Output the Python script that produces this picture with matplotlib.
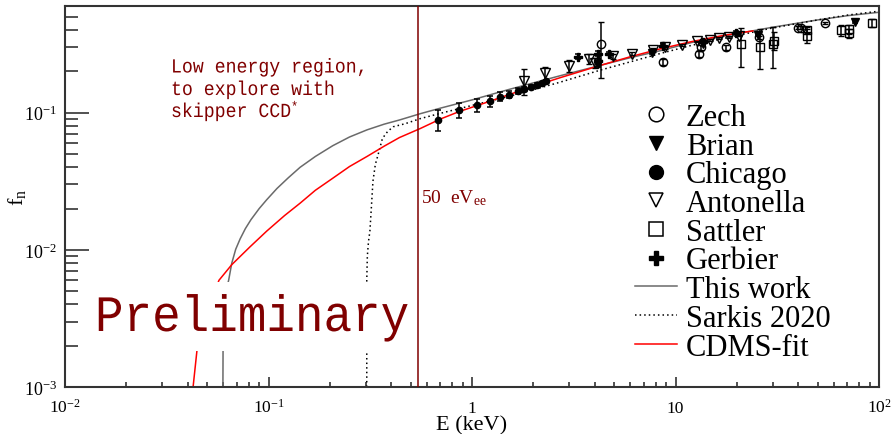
import matplotlib
matplotlib.use("Agg")
import matplotlib.pyplot as plt
from matplotlib.lines import Line2D
from matplotlib.patches import Rectangle, PathPatch
from matplotlib.textpath import TextPath
from matplotlib.font_manager import FontProperties
from matplotlib.transforms import Affine2D
from matplotlib.ticker import FixedLocator, LogLocator, NullFormatter

plt.rcParams["font.family"] = "Liberation Serif"
plt.rcParams["mathtext.fontset"] = "custom"
plt.rcParams["mathtext.rm"] = "Liberation Serif"
plt.rcParams["mathtext.it"] = "Liberation Serif:italic"
plt.rcParams["mathtext.bf"] = "Liberation Serif:bold"

DARK_RED = "#800000"

# quenching curves, E in keV
this_work_e = [0.0597, 0.0598, 0.0602, 0.0610, 0.0622, 0.0637, 0.066, 0.069, 0.0725, 0.077,
               0.082, 0.09, 0.098, 0.11, 0.125, 0.143, 0.17, 0.207, 0.25, 0.305, 0.37, 0.44,
               0.556, 0.7, 1.0, 1.5, 2.0, 2.71, 4.3, 6.0, 8.4, 12.0, 19.2, 30.0, 50.0, 70.0, 100.0]
this_work_f = [0.0010, 0.0019, 0.0030, 0.0042, 0.0052, 0.0060, 0.0080, 0.0101, 0.0120, 0.0143,
               0.0166, 0.0200, 0.0232, 0.0280, 0.0335, 0.0400, 0.0480, 0.0575, 0.0665, 0.0750,
               0.0825, 0.0885, 0.0983, 0.108, 0.124, 0.147, 0.165, 0.186, 0.222, 0.252, 0.283,
               0.325, 0.373, 0.42, 0.475, 0.51, 0.54]

sarkis_e = [0.304, 0.304, 0.306, 0.310, 0.315, 0.320, 0.326, 0.335, 0.345, 0.363,
            0.385, 0.41, 0.47, 0.556, 0.7, 1.0, 1.5, 2.0, 2.71, 4.3, 6.0, 8.4,
            12.0, 20.0, 30.0, 50.0, 70.0, 100.0]
sarkis_f = [0.0010, 0.0060, 0.0090, 0.0115, 0.0137, 0.020, 0.0316, 0.042, 0.049, 0.065,
            0.073, 0.079, 0.0832, 0.0905, 0.099, 0.113, 0.131, 0.147, 0.167, 0.205, 0.235, 0.27,
            0.31, 0.365, 0.415, 0.475, 0.515, 0.55]

cdms_e = [0.0426, 0.0446, 0.048, 0.052, 0.0571, 0.066, 0.081, 0.098, 0.12, 0.143, 0.17, 0.207,
          0.25, 0.305, 0.37, 0.44, 0.556, 0.7, 0.866, 1.2, 1.6, 2.2, 2.71, 4.3, 6.0, 8.4, 12.0,
          17.0, 24.0]
cdms_f = [0.0010, 0.0019, 0.0031, 0.0042, 0.0060, 0.0078, 0.0105, 0.0137, 0.0178, 0.0219,
          0.0272, 0.0333, 0.0405, 0.0480, 0.0570, 0.0659, 0.0766, 0.090, 0.102, 0.120, 0.139,
          0.163, 0.180, 0.222, 0.256, 0.292, 0.33, 0.365, 0.395]

# measurements
zech_e = [4.31, 8.71, 13.0, 13.4, 17.7, 25.8, 40.1, 41.5, 54.3]
zech_f = [0.316, 0.233, 0.268, 0.300, 0.299, 0.354, 0.418, 0.418, 0.450]
zech_lo = [0.137, 0.012, 0.012, 0.012, 0.012, 0.010, 0.008, 0.008, 0.008]
zech_hi = [0.146, 0.012, 0.012, 0.012, 0.012, 0.010, 0.008, 0.008, 0.008]

brian_e = [4.17, 7.64, 13.6, 25.5, 76.2]
brian_f = [0.225, 0.272, 0.315, 0.368, 0.459]
brian_err = [0.008, 0.006, 0.006, 0.006, 0.006]

chicago_e = [0.683, 0.866, 1.055, 1.226, 1.373, 1.526, 1.689, 1.807, 1.95, 2.08, 2.2, 2.3]
chicago_f = [0.089, 0.105, 0.113, 0.1215, 0.131, 0.1357, 0.1443, 0.149, 0.1535, 0.1595, 0.164, 0.170]
chicago_err = [0.015, 0.013, 0.0125, 0.011, 0.010, 0.008, 0.007, 0.006, 0.005, 0.005, 0.004, 0.004]

antonella_e = [1.80, 2.28, 3.0, 3.77, 4.0, 4.91, 6.09, 7.72, 8.87, 10.8, 12.7, 14.7, 16.4, 18.4, 20.4]
antonella_f = [0.1714, 0.194, 0.220, 0.246, 0.232, 0.2575, 0.270, 0.286, 0.299, 0.312, 0.331,
               0.338, 0.350, 0.356, 0.365]
antonella_err = [0.036, 0.022, 0.022, 0.020, 0.020, 0.012, 0.005, 0.008, 0.006, 0.005, 0.005,
                 0.005, 0.005, 0.005, 0.005]

sattler_e = [20.9, 26.0, 30.0, 30.5, 44.5, 44.5, 64.9, 71.5, 71.5, 92.0]
sattler_f = [0.316, 0.302, 0.316, 0.335, 0.400, 0.365, 0.400, 0.405, 0.380, 0.450]
sattler_lo = [0.100, 0.094, 0.105, 0.050, 0.020, 0.040, 0.035, 0.030, 0.030, 0.030]
sattler_hi = [0.097, 0.104, 0.108, 0.050, 0.020, 0.040, 0.035, 0.030, 0.030, 0.030]

gerbier_e = [3.33, 4.17, 4.17, 4.73, 8.71, 13.6, 19.8]
gerbier_f = [0.256, 0.270, 0.238, 0.270, 0.307, 0.330, 0.384]
gerbier_err = [0.010, 0.010, 0.010, 0.008, 0.008, 0.008, 0.008]

threshold_e = 0.54

x_ticks = [1e-2, 1e-1, 1, 10, 1e2]
x_labels = ["$10^{-2}$", "$10^{-1}$", "1", "10", "$10^{2}$"]
y_ticks = [1e-3, 1e-2, 1e-1]
y_labels = ["$10^{-3}$", "$10^{-2}$", "$10^{-1}$"]

W, H = 891, 435
fig = plt.figure(figsize=(W / 100, H / 100), dpi=100)
ax = fig.add_axes([65 / W, 47 / H, 814 / W, 381 / H])
ax.set_xscale("log")
ax.set_yscale("log")
ax.set_xlim(1e-2, 1e2)
ax.set_ylim(1e-3, 0.6)

# curves
ax.plot(this_work_e, this_work_f, color="#6a6a6a", lw=1.1, zorder=2)
ax.plot(sarkis_e, sarkis_f, color="black", lw=1.1, ls=(0, (1, 2)), zorder=2)
ax.plot(cdms_e, cdms_f, color="red", lw=1.1, zorder=2)

# data points
eb = dict(ecolor="black", elinewidth=1.1, capsize=2.2, capthick=1.1, ls="none", zorder=4)
ax.errorbar(zech_e, zech_f, yerr=[zech_lo, zech_hi], fmt="o", ms=6, mfc="none",
            mec="black", mew=1.0, **eb)
ax.errorbar(brian_e, brian_f, yerr=brian_err, fmt="v", ms=6, mfc="black", mec="black", **eb)
ax.errorbar(chicago_e, chicago_f, yerr=chicago_err, fmt="o", ms=4.5, mfc="black",
            mec="black", **eb)
ax.errorbar(antonella_e, antonella_f, yerr=antonella_err, fmt="v", ms=6.5, mfc="none",
            mec="black", mew=1.0, **eb)
ax.errorbar(sattler_e, sattler_f, yerr=[sattler_lo, sattler_hi], fmt="s", ms=6, mfc="none",
            mec="black", mew=1.0, **eb)
ax.errorbar(gerbier_e, gerbier_f, yerr=gerbier_err, fmt="P", ms=6, mfc="black",
            mec="black", **eb)

# white panel behind the watermark
ax.add_patch(Rectangle((0.03, 0.0945), 0.395, 0.181, transform=ax.transAxes,
                       facecolor="white", edgecolor="none", zorder=3))
ax.axvline(threshold_e, color=DARK_RED, lw=1.1, zorder=5)

# axes styling
for side in ["top", "bottom", "left", "right"]:
    ax.spines[side].set_linewidth(1.5)
    ax.spines[side].set_color("#333333")
ax.xaxis.set_major_locator(FixedLocator(x_ticks))
ax.xaxis.set_ticklabels(x_labels)
ax.yaxis.set_major_locator(FixedLocator(y_ticks))
ax.yaxis.set_ticklabels(y_labels)
ax.xaxis.set_minor_locator(LogLocator(base=10, subs=range(2, 10), numticks=20))
ax.yaxis.set_minor_locator(LogLocator(base=10, subs=range(2, 10), numticks=20))
ax.xaxis.set_minor_formatter(NullFormatter())
ax.yaxis.set_minor_formatter(NullFormatter())
ax.tick_params(axis="x", which="major", direction="in", length=7.2, width=1.1,
               labelsize=12.5, pad=18, top=False, color="#222222")
ax.tick_params(axis="x", which="minor", direction="in", length=3.6, width=1.1,
               top=False, color="#222222")
ax.tick_params(axis="y", which="major", direction="in", length=17.5, width=1.1,
               labelsize=13, pad=6, right=False, color="#222222")
ax.tick_params(axis="y", which="minor", direction="in", length=9, width=1.1,
               right=False, color="#222222")
for t in ax.xaxis.get_major_ticks():
    t.label1.set_verticalalignment("baseline")

fig.text(472 / W, 1 - 430 / H, "E (keV)", fontsize=16, ha="center", va="baseline")
fig.text(17 / W, 1 - 197 / H, r"f$_{\mathrm{n}}$", fontsize=16, rotation=90,
         ha="center", va="center")
fig.text(421 / W, 1 - 203 / H, r"50  eV$_{\mathrm{ee}}$", fontsize=14, color=DARK_RED,
         va="baseline")

# typewriter labels, drawn as paths so the glyphs can be set taller than wide
mono = FontProperties(family="Liberation Mono")


def mono_text(s, x_px, base_px, em_w, em_h, color=DARK_RED):
    path = TextPath((0, 0), s, size=1, prop=mono)
    tr = Affine2D().scale(em_w / 100, em_h / 100).translate(x_px / 100, (H - base_px) / 100)
    fig.add_artist(PathPatch(path, transform=tr + fig.dpi_scale_trans, facecolor=color,
                             edgecolor="none", zorder=6))


mono_text("Preliminary", 95, 332, 47.6, 51)
mono_text("Low energy region,", 171, 73.5, 18.2, 20)
mono_text("to explore with", 171, 96, 18.2, 20)
mono_text("skipper CCD", 171, 118, 18.2, 20)
mono_text("*", 291, 112, 12, 14)

# legend
handles = [
    Line2D([], [], ls="none", marker="o", ms=10.5, mfc="none", mec="black", mew=1.1),
    Line2D([], [], ls="none", marker="v", ms=10, mfc="black", mec="black"),
    Line2D([], [], ls="none", marker="o", ms=10, mfc="black", mec="black"),
    Line2D([], [], ls="none", marker="v", ms=10.5, mfc="none", mec="black", mew=1.1),
    Line2D([], [], ls="none", marker="s", ms=9.5, mfc="none", mec="black", mew=1.1),
    Line2D([], [], ls="none", marker="P", ms=10, mfc="black", mec="black"),
    Line2D([], [], color="#6a6a6a", lw=1.1),
    Line2D([], [], color="black", lw=1.1, ls=(0, (1, 2))),
    Line2D([], [], color="red", lw=1.1),
]
labels = ["Zech", "Brian", "Chicago", "Antonella", "Sattler", "Gerbier",
          "This work", "Sarkis 2020", "CDMS-fit"]
fig.legend(handles, labels, loc="upper left", bbox_to_anchor=(635 / W, 1 - 104 / H),
           frameon=False, borderpad=0, borderaxespad=0, handlelength=1.37,
           handletextpad=0.29, labelspacing=-0.01, fontsize=22)

fig.savefig("out.png", dpi=100)
